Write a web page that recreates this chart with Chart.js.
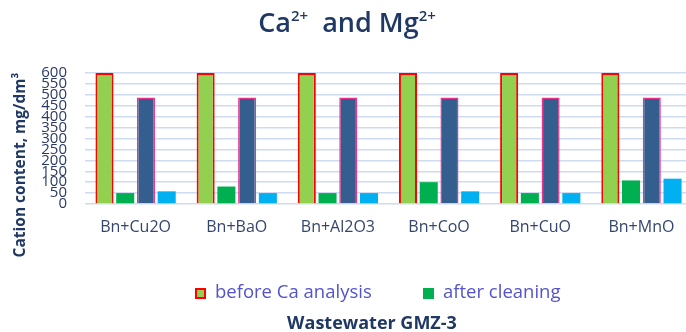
<!DOCTYPE html>
<html>
<head>
<meta charset="utf-8">
<script src="https://cdn.jsdelivr.net/npm/chart.js@4"></script>
<style>
html, body { margin: 0; padding: 0; overflow: hidden; background: #fff; }
#wrap { width: 693px; height: 332px; position: relative; }
</style>
</head>
<body>
<div id="wrap"><canvas id="myChart"></canvas></div>
<script>
var categories = ["Bn+Cu2O", "Bn+BaO", "Bn+Al2O3", "Bn+CoO", "Bn+CuO", "Bn+MnO"];
var caBefore = [600, 600, 600, 600, 600, 600];
var caAfter = [50, 80, 50, 100, 50, 108];
var mgBefore = [488, 488, 488, 488, 488, 488];
var mgAfter = [58, 50, 50, 58, 50, 116];
var yMax = 600;
var yStep = 50;

var navy = "#1f3864";

// titles and the two-item legend are drawn here
var textPlugin = {
	id: "texts",
	afterDraw: function(chart) {
		var c = chart.ctx;
		c.save();
		c.fillStyle = navy;
		c.textBaseline = "alphabetic";

		// title with superscripts
		var big = "600 27px 'Open Sans'";
		var small = "600 15px 'Open Sans'";
		var parts = [["Ca", big, 0], ["2+", small, -11], ["  and Mg", big, 0], ["2+", small, -11]];
		var w = 0;
		parts.forEach(function(p){ c.font = p[1]; w += c.measureText(p[0]).width; });
		var x = 347 - w / 2;
		parts.forEach(function(p){
			c.font = p[1];
			c.textAlign = "left";
			c.fillText(p[0], x, 32 + p[2]);
			x += c.measureText(p[0]).width;
		});

		// y axis title
		c.save();
		c.translate(21, 165);
		c.rotate(-Math.PI / 2);
		c.font = "bold 15.5px 'Open Sans'";
		c.textAlign = "center";
		c.textBaseline = "middle";
		c.fillText("Cation content, mg/dm³", 0, 0);
		c.restore();

		// x axis title
		c.font = "bold 18px 'Open Sans'";
		c.textAlign = "center";
		c.textBaseline = "middle";
		c.fillText("Wastewater GMZ-3", 372, 324);

		// legend
		var lx = [195, 423];
		var k = 0;
		chart.data.datasets.forEach(function(ds){
			if (!ds.inLegend) return;
			var bx = lx[k++];
			c.fillStyle = ds.backgroundColor;
			c.fillRect(bx, 288, 11, 11);
			if (ds.borderWidth) {
				c.strokeStyle = ds.borderColor;
				c.lineWidth = 2;
				c.strokeRect(bx + 1, 289, 9, 9);
			}
			c.fillStyle = "#5353cc";
			c.font = "18.5px 'Open Sans'";
			c.textAlign = "left";
			c.textBaseline = "middle";
			c.fillText(ds.label, bx + 20, 293);
		});
		c.restore();
	}
};

var ctx = document.getElementById("myChart");

var data = {
	labels : categories,
	datasets : [
		{
			label : "before Ca analysis",
			data : caBefore,
			backgroundColor : "#92d050",
			borderColor : "#ff0000",
			borderWidth : 2,
			inLegend : true
		},
		{
			label : "after cleaning",
			data : caAfter,
			backgroundColor : "#00b050",
			borderWidth : 0,
			inLegend : true
		},
		{
			label : "before Mg analysis",
			data : mgBefore,
			backgroundColor : "#335e8e",
			borderColor : "#e8368f",
			borderWidth : 1.5
		},
		{
			label : "after cleaning Mg",
			data : mgAfter,
			backgroundColor : "#00b0f0",
			borderWidth : 0
		}
	]
};

var myChart = new Chart(ctx, {
	type : "bar",
	data : data,
	plugins : [textPlugin],
	options : {
		responsive : true,
		maintainAspectRatio : false,
		animation : false,
		devicePixelRatio : 1,
		layout : { padding : { top : 73, right : 1, bottom : 88, left : 0 } },
		datasets : { bar : { categoryPercentage : 0.82, barPercentage : 0.87 } },
		plugins : {
			legend : { display : false },
			title : { display : false },
			tooltip : { enabled : false }
		},
		scales : {
			x : {
				grid : { display : false, drawTicks : false },
				border : { display : false },
				ticks : { font : { family : "Open Sans", size : 16 }, color : "#34466e", padding : 14 },
				afterFit : function(s){ s.height = 40; }
			},
			y : {
				min : 0,
				max : yMax,
				grid : { color : "#cfdcef", lineWidth : 1.5, drawTicks : false },
				border : { display : false },
				ticks : {
					stepSize : yStep,
					autoSkip : false,
					font : { family : "Open Sans", size : 15 },
					color : "#2a3a66",
					padding : 18
				},
				afterFit : function(s){ s.width = 85; }
			}
		}
	}
});
</script>
</body>
</html>
